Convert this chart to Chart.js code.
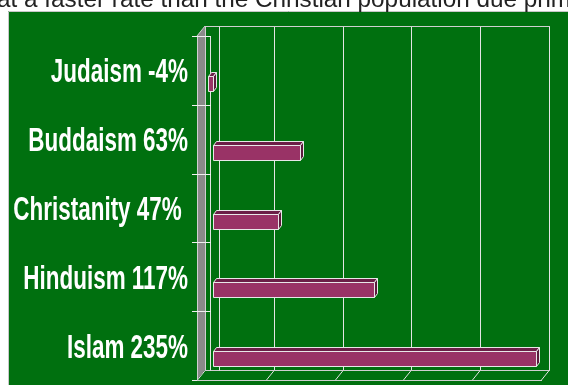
<!DOCTYPE html>
<html><head><meta charset="utf-8">
<script src="https://cdn.jsdelivr.net/npm/chart.js@4.4.1/dist/chart.umd.min.js"></script>
<style>
html,body{margin:0;padding:0;background:#fff;width:568px;height:385px;overflow:hidden;}
#wrap{position:absolute;left:0;top:0;width:568px;height:385px;}
#cap{position:absolute;left:-3px;top:-13px;font:24.3px/24px "Liberation Sans",Arial,sans-serif;color:#222;white-space:nowrap;z-index:2;}
</style></head><body>
<div id="cap">at a faster rate than the Christian population due primarily</div>
<div id="wrap"><canvas id="c"></canvas></div>
<script>
// ---- data ----
const categories = ['Judaism -4%', 'Buddaism 63%', 'Christanity 47% ', 'Hinduism 117%', 'Islam 235%'];
const growthPct = [-4, 63, 47, 117, 235];
const gridStep = 50;
const xMin = -11.64;
const xMax = 238.5;

const labelFont = 'bold 33.5px "Liberation Sans", Arial, sans-serif';
const labelSquash = 0.67;

// ---- 3D scene plugin ----
const scene = {
  id: 'scene',
  beforeDraw(chart) {
    const ctx = chart.ctx;
    ctx.save();
    ctx.fillStyle = '#00700f';
    ctx.fillRect(8, 11, 560, 374);
    ctx.strokeStyle = '#c8c8c8';
    ctx.lineWidth = 1;
    ctx.beginPath();
    ctx.moveTo(8.5, 385); ctx.lineTo(8.5, 11.5); ctx.lineTo(568, 11.5);
    ctx.stroke();
    ctx.restore();
  },
  beforeDatasetsDraw(chart) {
    const ctx = chart.ctx;
    const {left: L, right: R, top: T, bottom: B} = chart.chartArea;
    const xs = chart.scales.x, ys = chart.scales.y;
    const dx = 8, dy = 10;
    const line = (x1, y1, x2, y2) => { ctx.beginPath(); ctx.moveTo(x1, y1); ctx.lineTo(x2, y2); ctx.stroke(); };
    const r = v => Math.round(v) + 0.5;
    ctx.save();
    ctx.lineWidth = 1;
    ctx.strokeStyle = '#e4e4e4';
    for (let v = xMin; v <= xMax + 0.5; v += gridStep) {
      const x = Math.round(xs.getPixelForValue(v));
      if (v > xMin) line(x + dx + 0.5, r(T - dy), x + dx + 0.5, r(B - dy));
      line(x + 0.5, B, x + dx + 0.5, B - dy);
    }
    ctx.strokeStyle = '#cfcfcf';
    line(L + dx, r(T - dy), R + dx + 1, r(T - dy));
    line(L + dx, r(B - dy), R + dx + 1, r(B - dy));
    line(L - 5, r(B), R + 1, r(B));
    const x0 = Math.round(xs.getPixelForValue(0));
    ctx.strokeStyle = '#e4e4e4';
    line(x0 + 6.5, r(T - dy), x0 + 6.5, r(B - dy));
    line(x0 - 2.5, r(T), x0 - 2.5, r(B - dy));
    ctx.fillStyle = '#8a8a8a';
    ctx.beginPath();
    ctx.moveTo(L, T); ctx.lineTo(L + dx, T - dy); ctx.lineTo(L + dx, B - dy); ctx.lineTo(L, B); ctx.closePath();
    ctx.fill();
    ctx.strokeStyle = '#d0d0d0';
    line(r(L), T, r(L), B);
    line(r(L + dx), T - dy, r(L + dx), B - dy);
    line(L, T, L + dx, T - dy);
    ctx.strokeStyle = '#f0f0f0';
    for (let i = 0; i < categories.length; i++) {
      const y = r(ys.getPixelForValue(i - 0.5));
      line(L - 5, y, x0 - 2, y);
    }
    line(L - 5, r(B), L, r(B));
    ctx.restore();
  },
  afterDatasetsDraw(chart) {
    const ctx = chart.ctx;
    const meta = chart.getDatasetMeta(0);
    const off = 13, bx = 3, by = 4;
    ctx.save();
    ctx.lineWidth = 1;
    meta.data.forEach(el => {
      const h = el.height;
      const x1 = Math.round(Math.min(el.x, el.base)) + 0.5;
      const x2 = Math.round(Math.max(el.x, el.base)) + 0.5;
      const y1 = Math.round(el.y + off - h / 2) + 0.5;
      const y2 = Math.round(el.y + off + h / 2) + 0.5;
      const poly = (pts, fill) => {
        ctx.beginPath();
        ctx.moveTo(pts[0][0], pts[0][1]);
        for (let k = 1; k < pts.length; k++) ctx.lineTo(pts[k][0], pts[k][1]);
        ctx.closePath();
        ctx.fillStyle = fill; ctx.fill();
        ctx.strokeStyle = '#e8e8e8'; ctx.stroke();
      };
      poly([[x1, y1], [x1 + bx, y1 - by], [x2 + bx, y1 - by], [x2, y1]], '#6b1f47');
      poly([[x2, y1], [x2 + bx, y1 - by], [x2 + bx, y2 - by], [x2, y2]], '#5a1a3c');
      poly([[x1, y1], [x2, y1], [x2, y2], [x1, y2]], '#993366');
    });
    // condensed category labels (real text, compressed horizontally)
    const ys = chart.scales.y;
    const L = chart.chartArea.left;
    ctx.font = labelFont;
    ctx.fillStyle = '#ffffff';
    ctx.textAlign = 'right';
    ctx.textBaseline = 'alphabetic';
    chart.data.labels.forEach((lab, i) => {
      const w = ctx.measureText(lab).width;
      const y = ys.getPixelForValue(i) + 12;
      ctx.fillText(lab, L - 9, y, w * labelSquash);
    });
    ctx.restore();
  }
};

new Chart(document.getElementById('c'), {
  type: 'bar',
  data: {
    labels: categories,
    datasets: [{
      data: growthPct,
      backgroundColor: 'rgba(0,0,0,0)',
      borderWidth: 0,
      barThickness: 15
    }]
  },
  options: {
    indexAxis: 'y',
    responsive: true,
    maintainAspectRatio: false,
    animation: false,
    devicePixelRatio: 1,
    layout: {padding: {top: 36, right: 27, bottom: 5, left: 0}},
    plugins: {legend: {display: false}, tooltip: {enabled: false}},
    scales: {
      x: {display: false, min: xMin, max: xMax},
      y: {
        grid: {display: false, drawTicks: false},
        border: {display: false},
        ticks: {color: 'rgba(0,0,0,0)', autoSkip: false, padding: 9, font: {size: 12}},
        afterFit(s) {
          s.width = 197;
          s.paddingTop = 0; s.paddingBottom = 0; s.paddingLeft = 0; s.paddingRight = 0;
        }
      }
    }
  },
  plugins: [scene]
});
</script>
</body></html>
